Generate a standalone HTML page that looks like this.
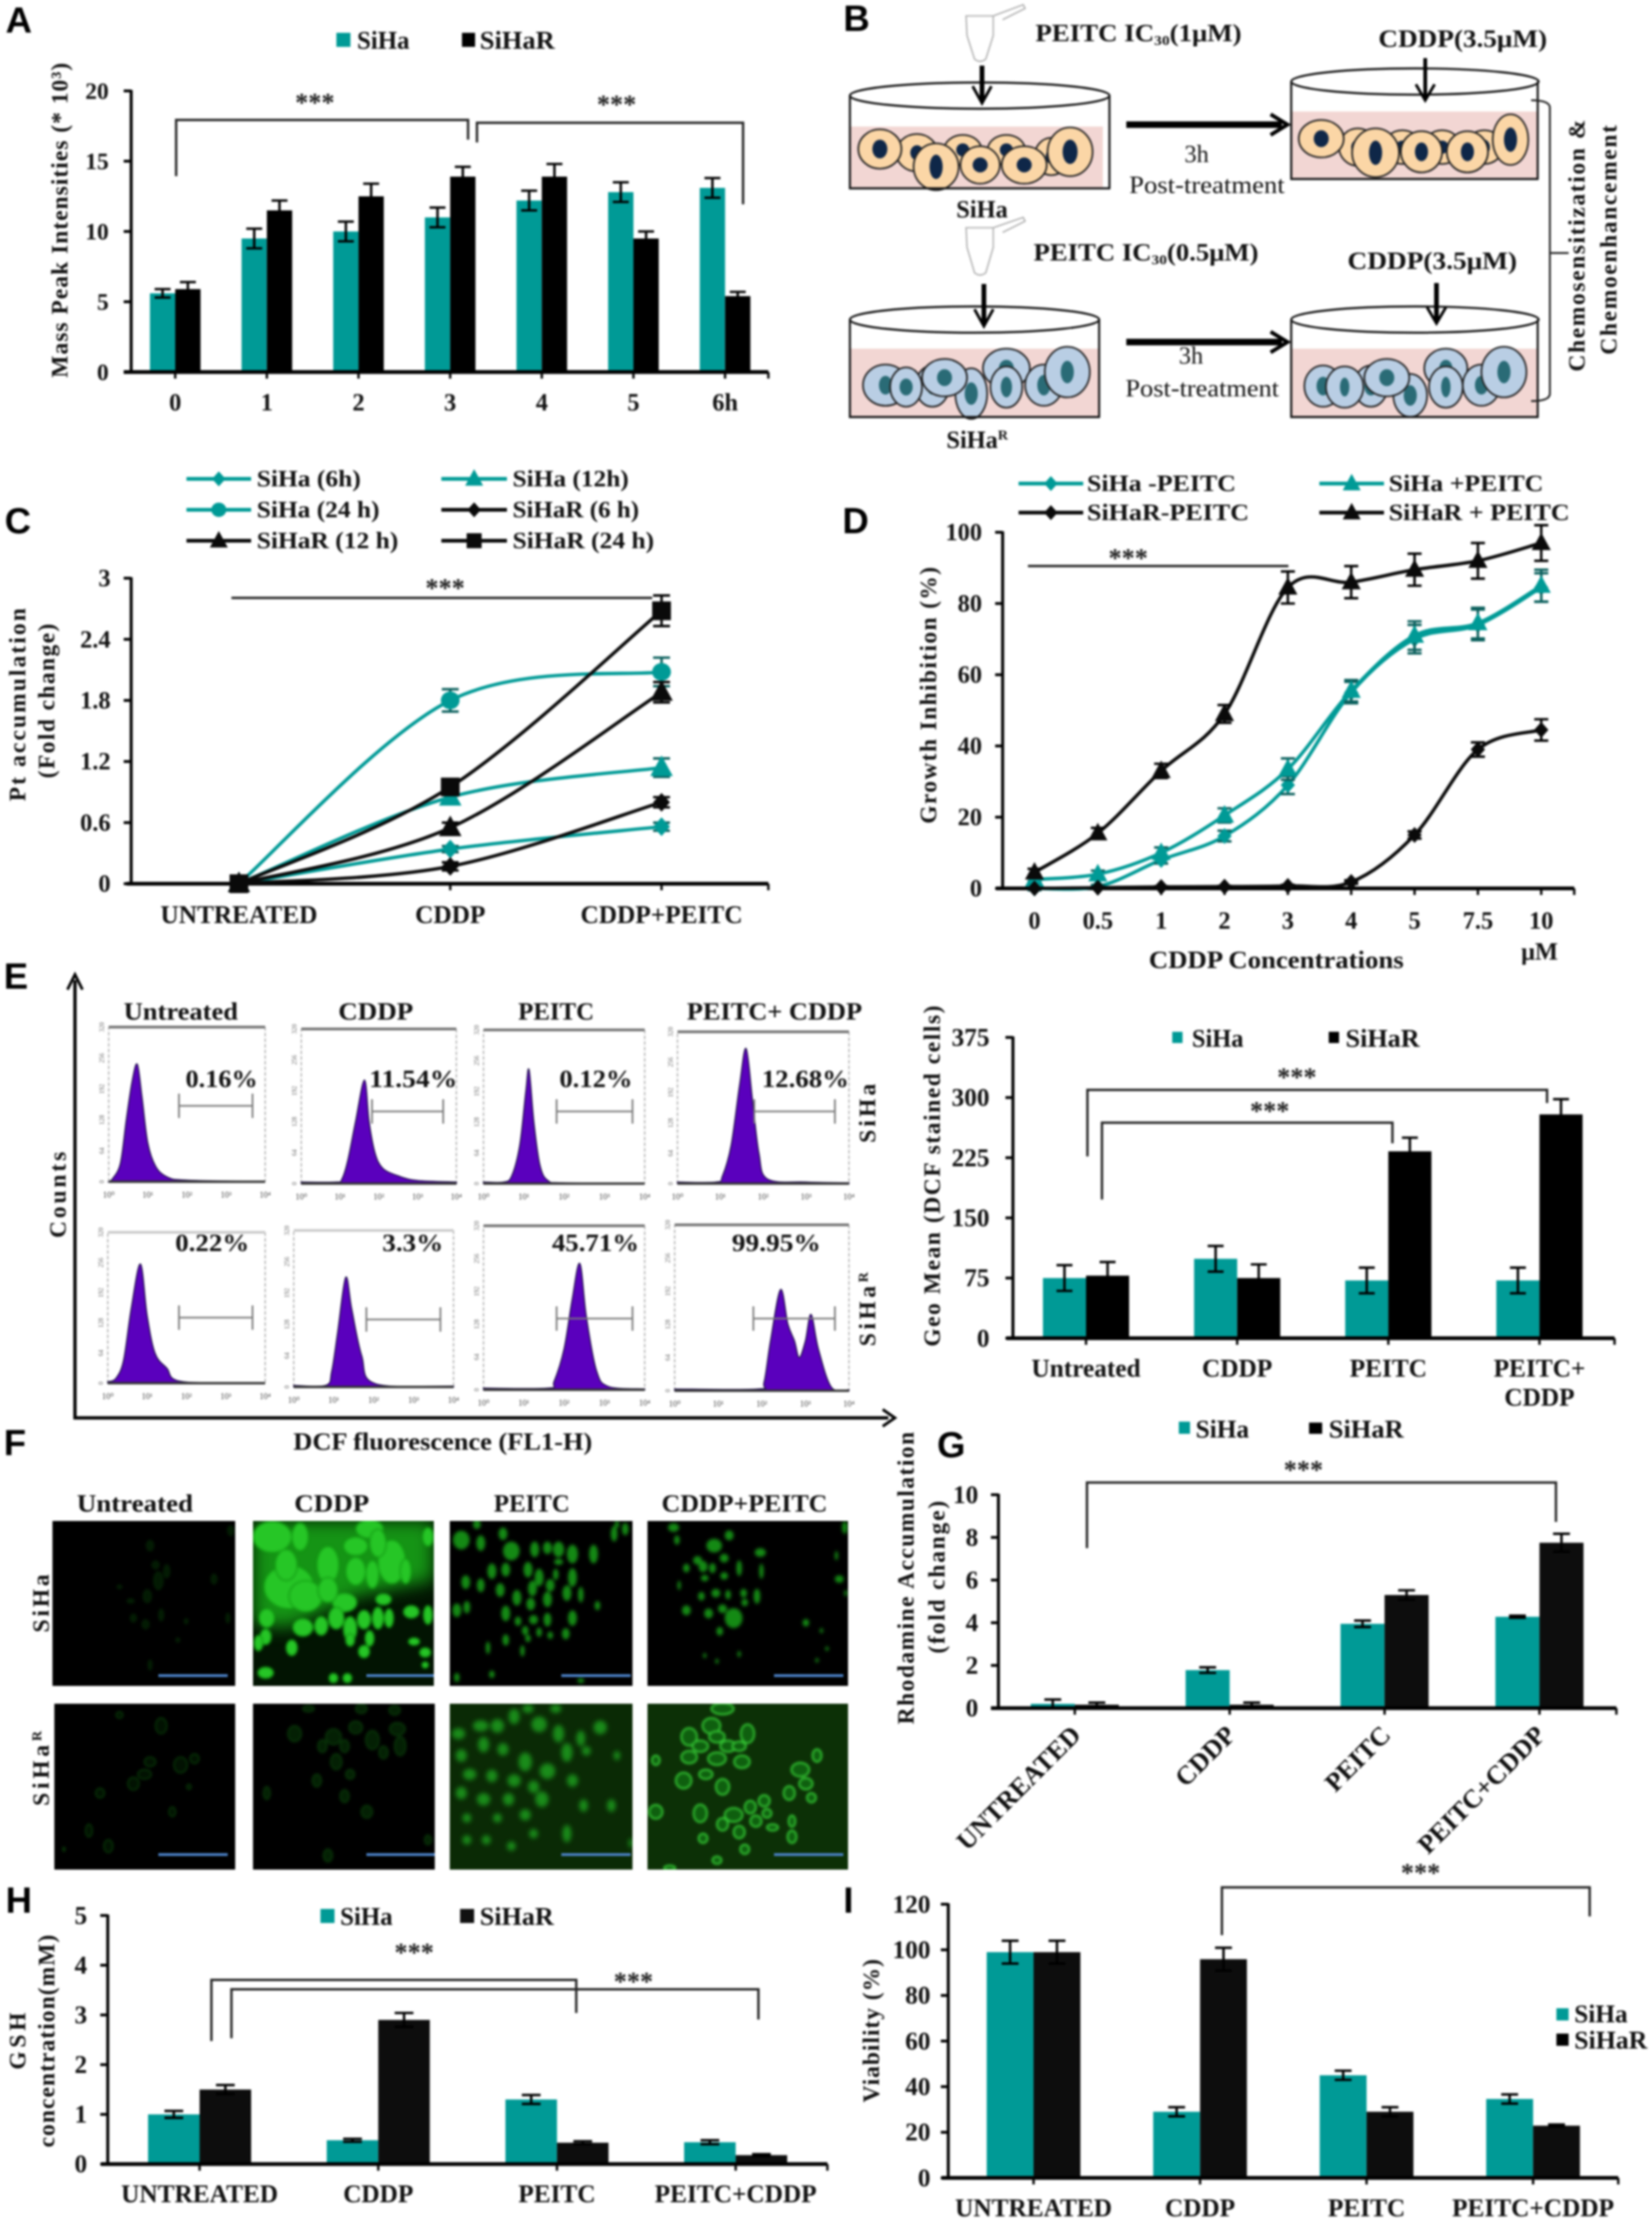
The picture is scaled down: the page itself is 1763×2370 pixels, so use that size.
<!DOCTYPE html>
<html lang="en">
<head>
<meta charset="utf-8">
<title>PEITC and CDDP multi-panel figure</title>
<style>
html,body{margin:0;padding:0;background:#fff}
svg#figure{display:block;width:1763px;height:2370px;filter:blur(1px);font-family:"Liberation Serif",serif;font-weight:bold;fill:#111}
.pl{font-family:"Liberation Sans",sans-serif;font-weight:bold;font-size:39px;fill:#000}
.star{font-size:28px;text-anchor:middle;fill:#222}
.lg{font-size:27px;fill:#111}
.hd{font-size:26px;fill:#111}
.vt{font-size:25px;fill:#111;text-anchor:middle}
.br{fill:none;stroke:#222;stroke-width:2.5}
</style>
</head>
<body>
<svg id="figure" xmlns="http://www.w3.org/2000/svg" width="1763" height="2370" viewBox="0 0 1763 2370">
<rect x="0" y="0" width="1763" height="2370" fill="#fff"/>

<!-- Panel letters -->
<text class="pl" x="6" y="35">A</text>
<text class="pl" x="900" y="33">B</text>
<text class="pl" x="5" y="569">C</text>
<text class="pl" x="899" y="569">D</text>
<text class="pl" x="4" y="1055">E</text>
<text class="pl" x="4" y="1553">F</text>
<text class="pl" x="1000" y="1555">G</text>
<text class="pl" x="6" y="2041">H</text>
<text class="pl" x="900" y="2041">I</text>

<!-- Panel A -->
<g id="panel-a"></g>
<g>
<rect x="359" y="35" width="15" height="15" fill="#009a96"/>
<text class="lg" x="381" y="52" textLength="56" lengthAdjust="spacingAndGlyphs">SiHa</text>
<rect x="493" y="35" width="14" height="15" fill="#000"/>
<text class="lg" x="512" y="52" textLength="80" lengthAdjust="spacingAndGlyphs">SiHaR</text>
<text class="vt" transform="translate(72,235) rotate(-90)" textLength="336" lengthAdjust="spacing">Mass Peak Intensities (* 10³)</text>
<path class="br" d="M188 188V128H499.5V149"/>
<path class="br" d="M509 152V131H793V218"/>
<text class="star" x="336" y="119">***</text>
<text class="star" x="658" y="121">***</text>
</g>

<!-- Panel B -->
<g id="panel-b">
<g fill="none" stroke="#b4b4b4" stroke-width="1.6">
<path d="M1031 17H1060V38L1052 63Q1046 68 1040 63L1032 38Z"/>
<path d="M1060 17L1092 5l2 4-24 12"/>
<path d="M1031 243H1060V264L1052 291Q1046 296 1040 291L1032 264Z"/>
<path d="M1060 243L1092 232l2 4-24 12"/>
</g>
<g>
<rect x="907" y="135" width="270" height="65" fill="#f2d6d3"/>
<rect x="1378" y="119" width="263" height="71" fill="#f2d6d3"/>
<rect x="907" y="372" width="266" height="73" fill="#f2d6d3"/>
<rect x="1378" y="372" width="263" height="73" fill="#f2d6d3"/>
</g>
<g id="schematic-cells"></g>
<g fill="none" stroke="#111" stroke-width="2.2">
<ellipse cx="1045.5" cy="102" rx="138.5" ry="14"/>
<path d="M907 102V201H1185M1184 102V201"/>
<ellipse cx="1510" cy="87" rx="132" ry="14"/>
<path d="M1378 87V191H1642M1641 87V191"/>
<ellipse cx="1040" cy="341" rx="133" ry="14"/>
<path d="M907 341V445H1174M1173 341V445"/>
<ellipse cx="1510" cy="341" rx="132" ry="14"/>
<path d="M1378 341V445H1642M1641 341V445"/>
</g>
<g stroke="#000" fill="none">
<path d="M1048 70V108" stroke-width="5"/><path d="M1038 92L1048 110L1058 92" stroke-width="3"/>
<path d="M1521 62V105" stroke-width="4"/><path d="M1511 90L1521 107L1531 90" stroke-width="3"/>
<path d="M1050 303V346" stroke-width="5"/><path d="M1040 330L1050 348L1060 330" stroke-width="3"/>
<path d="M1533 302V343" stroke-width="5"/><path d="M1523 328L1533 345L1543 328" stroke-width="3"/>
<path d="M1202 133H1368" stroke-width="7"/><path d="M1356 122L1374 133L1356 144" stroke-width="4"/>
<path d="M1202 365H1368" stroke-width="7"/><path d="M1356 354L1374 365L1356 376" stroke-width="4"/>
<path d="M1634 107Q1654 107 1654 115V420Q1654 428 1634 428M1654 270H1674" stroke="#222" stroke-width="2"/>
</g>
<text class="hd" x="1105" y="44" textLength="220" lengthAdjust="spacingAndGlyphs">PEITC IC<tspan font-size="15" dy="4">30</tspan><tspan dy="-4">(1μM)</tspan></text>
<text class="hd" x="1103" y="278" textLength="240" lengthAdjust="spacingAndGlyphs">PEITC IC<tspan font-size="15" dy="4">30</tspan><tspan dy="-4">(0.5μM)</tspan></text>
<text class="hd" x="1471" y="50" textLength="180" lengthAdjust="spacingAndGlyphs">CDDP(3.5μM)</text>
<text class="hd" x="1438" y="287" textLength="181" lengthAdjust="spacingAndGlyphs">CDDP(3.5μM)</text>
<text class="hd" x="1277" y="173" text-anchor="middle" font-weight="normal">3h</text>
<text class="hd" x="1205" y="206" textLength="166" lengthAdjust="spacingAndGlyphs" font-weight="normal">Post-treatment</text>
<text class="hd" x="1271" y="388" text-anchor="middle" font-weight="normal">3h</text>
<text class="hd" x="1201" y="423" textLength="164" lengthAdjust="spacingAndGlyphs" font-weight="normal">Post-treatment</text>
<text class="hd" x="1048" y="232" text-anchor="middle">SiHa</text>
<text class="hd" x="1010" y="478">SiHa<tspan font-size="15" dy="-9">R</tspan></text>
<text class="vt" transform="translate(1691,262) rotate(-90)" font-size="27" textLength="269" lengthAdjust="spacing">Chemosensitization &amp;</text>
<text class="vt" transform="translate(1725,256) rotate(-90)" font-size="27" textLength="245" lengthAdjust="spacing">Chemoenhancement</text>
</g>

<!-- Panel C -->
<g id="panel-c-legend"></g>
<g id="panel-c"></g>
<g>
<text class="vt" transform="translate(27,752) rotate(-90)" textLength="206" lengthAdjust="spacing">Pt  accumulation</text>
<text class="vt" transform="translate(58,748) rotate(-90)" textLength="165" lengthAdjust="spacing">(Fold change)</text>
<path d="M247 638H696" fill="none" stroke="#222" stroke-width="2.5"/>
<text class="star" x="475" y="637">***</text>
</g>

<!-- Panel D -->
<g id="panel-d-legend"></g>
<g id="panel-d"></g>
<g>
<text class="vt" transform="translate(999,742) rotate(-90)" textLength="274" lengthAdjust="spacing">Growth Inhibition (%)</text>
<text class="hd" x="1226" y="1033" textLength="272" lengthAdjust="spacingAndGlyphs">CDDP Concentrations</text>
<text class="hd" x="1643" y="1024" text-anchor="middle">μM</text>
<path d="M1097 604H1375" fill="none" stroke="#222" stroke-width="2.5"/>
<text class="star" x="1204" y="605">***</text>
</g>

<!-- Panel E flow plots -->
<g>
<path d="M80 1046V1513H948" fill="none" stroke="#000" stroke-width="3.5"/>
<path d="M72 1056L80 1040L88 1056" fill="none" stroke="#000" stroke-width="3"/>
<path d="M942 1504L955 1513L942 1522" fill="none" stroke="#000" stroke-width="3"/>
<text class="vt" transform="translate(70,1275) rotate(-90)" textLength="92" lengthAdjust="spacing">Counts</text>
<text class="hd" x="313" y="1547" textLength="319" lengthAdjust="spacingAndGlyphs">DCF fluorescence (FL1-H)</text>
<text class="hd" x="132" y="1088" textLength="122" lengthAdjust="spacingAndGlyphs">Untreated</text>
<text class="hd" x="361" y="1088" textLength="80" lengthAdjust="spacingAndGlyphs">CDDP</text>
<text class="hd" x="553" y="1088" textLength="81" lengthAdjust="spacingAndGlyphs">PEITC</text>
<text class="hd" x="733" y="1088" textLength="187" lengthAdjust="spacingAndGlyphs">PEITC+ CDDP</text>
<text class="vt" transform="translate(934,1188) rotate(-90)" textLength="63" lengthAdjust="spacing">SiHa</text>
<text class="vt" transform="translate(934,1397) rotate(-90)" textLength="79" lengthAdjust="spacing">SiHa<tspan font-size="15" dy="-8">R</tspan></text>
<g id="flow-plots"></g>
<g font-size="26" fill="#111">
<text x="198" y="1160" textLength="77" lengthAdjust="spacingAndGlyphs">0.16%</text>
<text x="394" y="1160" textLength="94" lengthAdjust="spacingAndGlyphs">11.54%</text>
<text x="597" y="1160" textLength="78" lengthAdjust="spacingAndGlyphs">0.12%</text>
<text x="813" y="1160" textLength="93" lengthAdjust="spacingAndGlyphs">12.68%</text>
<text x="187" y="1335" textLength="79" lengthAdjust="spacingAndGlyphs">0.22%</text>
<text x="408" y="1335" textLength="65" lengthAdjust="spacingAndGlyphs">3.3%</text>
<text x="589" y="1335" textLength="93" lengthAdjust="spacingAndGlyphs">45.71%</text>
<text x="781" y="1335" textLength="95" lengthAdjust="spacingAndGlyphs">99.95%</text>
</g>
</g>

<!-- Panel E geo mean chart -->
<g id="panel-e-bars"></g>
<g>
<rect x="1251" y="1101" width="11" height="12" fill="#009a96"/>
<text class="lg" x="1272" y="1117" textLength="55" lengthAdjust="spacingAndGlyphs">SiHa</text>
<rect x="1418" y="1101" width="11" height="12" fill="#000"/>
<text class="lg" x="1436" y="1117" textLength="79" lengthAdjust="spacingAndGlyphs">SiHaR</text>
<text class="vt" transform="translate(1003,1255) rotate(-90)" textLength="364" lengthAdjust="spacing">Geo Mean (DCF stained cells)</text>
<path class="br" d="M1160.5 1234V1163H1651V1177" stroke="#444"/>
<path class="br" d="M1176 1280V1198H1486V1220"/>
<text class="star" x="1384" y="1159">***</text>
<text class="star" x="1355" y="1195">***</text>
</g>

<!-- Panel F -->
<g>
<text class="hd" x="82" y="1613" textLength="124" lengthAdjust="spacingAndGlyphs">Untreated</text>
<text class="hd" x="314" y="1613" textLength="80" lengthAdjust="spacingAndGlyphs">CDDP</text>
<text class="hd" x="527" y="1613" textLength="81" lengthAdjust="spacingAndGlyphs">PEITC</text>
<text class="hd" x="706" y="1613" textLength="177" lengthAdjust="spacingAndGlyphs">CDDP+PEITC</text>
<text class="vt" transform="translate(52,1711) rotate(-90)" textLength="62" lengthAdjust="spacing">SiHa</text>
<text class="vt" transform="translate(52,1887) rotate(-90)" textLength="80" lengthAdjust="spacing">SiHa<tspan font-size="15" dy="-8">R</tspan></text>
<g id="micrographs"></g>
</g>

<!-- Panel G -->
<g id="panel-g"></g>
<g>
<rect x="1258" y="1517" width="12" height="13" fill="#009a96"/>
<text class="lg" x="1276" y="1534" textLength="57" lengthAdjust="spacingAndGlyphs">SiHa</text>
<rect x="1397" y="1518" width="14" height="12" fill="#000"/>
<text class="lg" x="1418" y="1534" textLength="80" lengthAdjust="spacingAndGlyphs">SiHaR</text>
<text class="vt" transform="translate(975,1684) rotate(-90)" textLength="312" lengthAdjust="spacing">Rhodamine Accumulation</text>
<text class="vt" transform="translate(1008,1683) rotate(-90)" textLength="163" lengthAdjust="spacing">(fold change)</text>
<path class="br" d="M1160 1652V1582H1660.5V1624"/>
<text class="star" x="1391" y="1578">***</text>
</g>

<!-- Panel H -->
<g id="panel-h"></g>
<g>
<rect x="342" y="2037" width="15" height="15" fill="#009a96"/>
<text class="lg" x="363" y="2054" textLength="56" lengthAdjust="spacingAndGlyphs">SiHa</text>
<rect x="491" y="2037" width="15" height="15" fill="#111"/>
<text class="lg" x="512" y="2054" textLength="79" lengthAdjust="spacingAndGlyphs">SiHaR</text>
<text class="vt" transform="translate(27,2178) rotate(-90)" textLength="61" lengthAdjust="spacing">GSH</text>
<text class="vt" transform="translate(58,2178) rotate(-90)" textLength="227" lengthAdjust="spacing">concentration(mM)</text>
<path class="br" d="M225.6 2178V2112.7H615V2148"/>
<path class="br" d="M247 2175V2122.7H809.4V2155"/>
<text class="star" x="442" y="2093">***</text>
<text class="star" x="676" y="2124">***</text>
</g>

<!-- Panel I -->
<g id="panel-i"></g>
<g>
<rect x="1661" y="2143" width="13" height="13" fill="#009a96"/>
<text class="lg" x="1680" y="2158" textLength="57" lengthAdjust="spacingAndGlyphs">SiHa</text>
<rect x="1661" y="2170" width="13" height="13" fill="#000"/>
<text class="lg" x="1680" y="2186" textLength="78" lengthAdjust="spacingAndGlyphs">SiHaR</text>
<text class="vt" transform="translate(938,2167) rotate(-90)" textLength="153" lengthAdjust="spacing">Viability (%)</text>
<path class="br" d="M1304 2065V2014H1696.5V2045"/>
<text class="star" x="1516" y="2008">***</text>
</g>
</svg>

<script>
// ---------- Panel A data ----------
const aCategories = ['0', '1', '2', '3', '4', '5', '6h'];
const aYTicks = [0, 5, 10, 15, 20];
const aSiHa = [5.6, 9.5, 10, 11, 12.2, 12.8, 13.1];
const aSiHaErr = [0.3, 0.7, 0.7, 0.7, 0.7, 0.7, 0.7];
const aSiHaR = [5.9, 11.5, 12.5, 13.9, 13.9, 9.5, 5.4];
const aSiHaRErr = [0.5, 0.7, 0.9, 0.7, 0.9, 0.5, 0.3];

// ---------- Panel C data ----------
const cCategories = ['UNTREATED', 'CDDP', 'CDDP+PEITC'];
const cYTicks = [0, 0.6, 1.2, 1.8, 2.4, 3];
const cSiHa6h = [0, 0.34, 0.56];
const cSiHa6hErr = [0, 0.03, 0.04];
const cSiHa12h = [0, 0.85, 1.14];
const cSiHa12hErr = [0, 0.05, 0.09];
const cSiHa24h = [0, 1.8, 2.08];
const cSiHa24hErr = [0, 0.11, 0.14];
const cSiHaR6h = [0, 0.17, 0.8];
const cSiHaR6hErr = [0, 0.04, 0.05];
const cSiHaR12h = [0, 0.55, 1.88];
const cSiHaR12hErr = [0, 0.05, 0.1];
const cSiHaR24h = [0, 0.95, 2.68];
const cSiHaR24hErr = [0, 0.05, 0.15];

// ---------- Panel D data ----------
const dDoses = ['0', '0.5', '1', '2', '3', '4', '5', '7.5', '10'];
const dYTicks = [0, 20, 40, 60, 80, 100];
const dSiHaMinus = [0, 0.5, 8, 14.7, 29, 55, 70, 74, 84.5];
const dSiHaMinusErr = [0.5, 0.5, 1, 1.5, 2.5, 3, 4, 4.3, 4];
const dSiHaPlus = [2.5, 4, 10, 20.5, 33.5, 55.5, 71, 74.5, 85];
const dSiHaPlusErr = [0.5, 1, 1.5, 2, 3, 3, 4, 4.3, 4.5];
const dSiHaRMinus = [0, 0.2, 0.4, 0.5, 0.7, 1.8, 15, 39, 44.5];
const dSiHaRMinusErr = [0.2, 0.2, 0.2, 0.2, 0.3, 0.5, 1, 2, 3];
const dSiHaRPlus = [4.5, 15.5, 33, 49, 84.5, 86, 89.5, 92, 97];
const dSiHaRPlusErr = [1, 1.5, 2, 2.5, 4.5, 4.5, 4.5, 5, 5];

// ---------- Panel E geo mean data ----------
const eCategories = ['Untreated', 'CDDP', 'PEITC', 'PEITC+|CDDP'];
const eYTicks = [0, 75, 150, 225, 300, 375];
const eSiHa = [75, 99, 72, 72];
const eSiHaErr = [16, 16, 16, 16];
const eSiHaR = [78, 75, 233, 279];
const eSiHaRErr = [17, 17, 17, 19];

// ---------- Panel E flow histograms (log decades, fraction of frame height) ----------
const histAxisLabels = ['10⁰', '10¹', '10²', '10³', '10⁴'];
const histCountLabels = [0, 64, 128, 192, 256, 320];
const h1Log = [0, 0.1, 0.3, 0.45, 0.6, 0.73, 0.85, 1, 1.2, 1.5, 2, 4];
const h1Count = [0, 0.02, 0.12, 0.4, 0.65, 0.76, 0.55, 0.25, 0.1, 0.03, 0.01, 0];
const h2Log = [0, 0.9, 1.05, 1.2, 1.4, 1.63, 1.75, 1.9, 2.1, 2.5, 3, 4];
const h2Count = [0.01, 0.01, 0.03, 0.15, 0.4, 0.67, 0.4, 0.2, 0.1, 0.05, 0.02, 0.01];
const h3Log = [0, 0.5, 0.7, 0.9, 1.05, 1.13, 1.25, 1.4, 1.6, 2, 4];
const h3Count = [0.01, 0.01, 0.05, 0.25, 0.6, 0.74, 0.4, 0.12, 0.02, 0.005, 0];
const h4Log = [0, 0.9, 1.05, 1.25, 1.45, 1.6, 1.75, 1.9, 2.1, 3, 4];
const h4Count = [0.01, 0.01, 0.05, 0.25, 0.65, 0.89, 0.55, 0.2, 0.03, 0.01, 0.005];
const h5Log = [0, 0.2, 0.4, 0.6, 0.83, 1, 1.2, 1.5, 1.9, 4];
const h5Count = [0.01, 0.03, 0.15, 0.5, 0.79, 0.45, 0.2, 0.1, 0.01, 0];
const h6Log = [0, 0.8, 0.95, 1.1, 1.3, 1.45, 1.7, 2.05, 4];
const h6Count = [0.01, 0.01, 0.1, 0.35, 0.7, 0.5, 0.2, 0.02, 0.005];
const h7Log = [0, 1.6, 1.75, 2, 2.2, 2.39, 2.55, 2.8, 3.1, 4];
const h7Count = [0.01, 0.01, 0.05, 0.25, 0.55, 0.77, 0.45, 0.12, 0.02, 0.005];
const h8Log = [0, 1.9, 2.05, 2.2, 2.43, 2.6, 2.75, 2.86, 3, 3.13, 3.3, 3.6, 4];
const h8Count = [0.01, 0.01, 0.05, 0.3, 0.61, 0.4, 0.3, 0.2, 0.3, 0.46, 0.25, 0.02, 0.005];

// ---------- Panel G data ----------
const gCategories = ['UNTREATED', 'CDDP', 'PEITC', 'PEITC+CDDP'];
const gYTicks = [0, 2, 4, 6, 8, 10];
const gSiHa = [0.2, 1.78, 3.95, 4.28];
const gSiHaErr = [0.2, 0.13, 0.15, 0.05];
const gSiHaR = [0.16, 0.16, 5.3, 7.75];
const gSiHaRErr = [0.1, 0.1, 0.22, 0.42];

// ---------- Panel H data ----------
const hCategories = ['UNTREATED', 'CDDP', 'PEITC', 'PEITC+CDDP'];
const hYTicks = [0, 1, 2, 3, 4, 5];
const hSiHa = [1, 0.48, 1.3, 0.44];
const hSiHaErr = [0.07, 0.03, 0.09, 0.04];
const hSiHaR = [1.5, 2.9, 0.43, 0.18];
const hSiHaRErr = [0.09, 0.14, 0.03, 0.02];

// ---------- Panel I data ----------
const iCategories = ['UNTREATED', 'CDDP', 'PEITC', 'PEITC+CDDP'];
const iYTicks = [0, 20, 40, 60, 80, 100, 120];
const iSiHa = [99, 29, 45, 34.6];
const iSiHaErr = [5, 2, 2, 2];
const iSiHaR = [99, 95.9, 29, 22.9];
const iSiHaRErr = [5, 5, 2, 0.5];

const TEAL = '#009a96';
const BLACK = '#0a0a0a';
const SVGNS = 'http://www.w3.org/2000/svg';

function mk(tag, attrs, parent) {
  const el = document.createElementNS(SVGNS, tag);
  for (const k in attrs) el.setAttribute(k, attrs[k]);
  parent.appendChild(el);
  return el;
}
function linearScale(v0, p0, v1, p1) {
  return v => p0 + (v - v0) * (p1 - p0) / (v1 - v0);
}
function drawMarker(parent, type, x, y, color, s) {
  let el;
  if (type === 'diamond') {
    el = mk('polygon', {points: [x, y - 10 * s, x + 9 * s, y, x, y + 10 * s, x - 9 * s, y].join(' '), fill: color}, parent);
  } else if (type === 'triangle') {
    el = mk('polygon', {points: [x, y - 13 * s, x + 12 * s, y + 9 * s, x - 12 * s, y + 9 * s].join(' '), fill: color}, parent);
  } else if (type === 'square') {
    el = mk('rect', {x: x - 10 * s, y: y - 10 * s, width: 20 * s, height: 20 * s, fill: color}, parent);
  } else {
    el = mk('ellipse', {cx: x, cy: y, rx: 10 * s, ry: 9.5 * s, fill: color}, parent);
  }
  
  
  return el;
}
function drawErrorBar(parent, cx, yHi, yLo, cap, color) {
  const d = 'M' + (cx - cap) + ' ' + yHi + 'H' + (cx + cap) + 'M' + cx + ' ' + yHi + 'V' + yLo + 'M' + (cx - cap) + ' ' + yLo + 'H' + (cx + cap);
  const el = mk('path', {d: d, stroke: color, 'stroke-width': 2.6, fill: 'none'}, parent);
  
  
}
function drawAxes(root, yTicks, yScale, xTickPositions, L) {
  const yMax = yTicks[yTicks.length - 1];
  const yAxis = mk('line', {x1: L.axisX, x2: L.axisX, y1: yScale(yMax) - 1, y2: L.yZero, stroke: '#000', 'stroke-width': 3.2}, root);
  
  
  const xAxis = mk('line', {x1: L.axisLeft, x2: L.axisRight, y1: L.yZero, y2: L.yZero, stroke: '#000', 'stroke-width': 4}, root);
  
  
  yTicks.forEach(v => {
    const tick = mk('line', {x1: L.axisX - 8, x2: L.axisX, y1: yScale(v), y2: yScale(v), stroke: '#000', 'stroke-width': 3}, root);
    
    
    const label = mk('text', {x: L.yLabelX, y: yScale(v) + L.tickSize * 0.33, 'text-anchor': 'end', 'font-size': L.tickSize}, root);
    label.textContent = String(v);
    
    
  });
  xTickPositions.forEach(px => {
    const tick = mk('line', {x1: px, x2: px, y1: L.yZero, y2: L.yZero + 7, stroke: '#000', 'stroke-width': 2.5}, root);
    
    
  });
}
function drawCategoryLabels(root, categories, xScale, L) {
  categories.forEach((c, i) => {
    const px = xScale(i);
    if (L.labelRotate) {
      const label = mk('text', {'text-anchor': 'end', 'font-size': L.labelSize, transform: 'translate(' + (px + L.labelOffsetX) + ',' + L.labelY + ') rotate(' + L.labelRotate + ')'}, root);
      label.textContent = c;
      
      
    } else {
      c.split('|').forEach((part, row) => {
        const label = mk('text', {x: px, y: L.labelY + row * L.labelSize * 1.15, 'text-anchor': 'middle', 'font-size': L.labelSize}, root);
        label.textContent = part;
        
        
      });
    }
  });
}
function drawBarChart(id, categories, yTicks, sihaVals, sihaErrs, siharVals, siharErrs, L) {
  const root = document.getElementById(id);
  const x = linearScale(0, L.xFirst, 1, L.xFirst + L.xStep);
  const y = linearScale(0, L.yZero, yTicks[yTicks.length - 1], L.yTop);
  categories.forEach((c, i) => {
    const teal = mk('rect', {x: x(i) - L.barW, y: y(sihaVals[i]), width: L.barW, height: L.yZero - y(sihaVals[i]), fill: TEAL}, root);
    
    
    const dark = mk('rect', {x: x(i), y: y(siharVals[i]), width: L.barW, height: L.yZero - y(siharVals[i]), fill: L.darkFill}, root);
    
    
    drawErrorBar(root, x(i) - L.barW / 2, y(sihaVals[i] + sihaErrs[i]), y(sihaVals[i] - sihaErrs[i]), L.cap, '#000');
    drawErrorBar(root, x(i) + L.barW / 2, y(siharVals[i] + siharErrs[i]), y(siharVals[i] - siharErrs[i]), L.cap, '#000');
  });
  const ticks = categories.map((c, i) => x(i)).concat([L.axisRight]);
  drawAxes(root, yTicks, y, ticks, L);
  drawCategoryLabels(root, categories, x, L);
}
function smoothPath(pts) {
  let d = 'M' + pts[0][0] + ' ' + pts[0][1];
  for (let i = 0; i < pts.length - 1; i++) {
    const p0 = pts[Math.max(i - 1, 0)], p1 = pts[i], p2 = pts[i + 1], p3 = pts[Math.min(i + 2, pts.length - 1)];
    const c1x = p1[0] + (p2[0] - p0[0]) / 6, c1y = p1[1] + (p2[1] - p0[1]) / 6;
    const c2x = p2[0] - (p3[0] - p1[0]) / 6, c2y = p2[1] - (p3[1] - p1[1]) / 6;
    d += 'C' + c1x + ' ' + c1y + ' ' + c2x + ' ' + c2y + ' ' + p2[0] + ' ' + p2[1];
  }
  return d;
}
function drawLineChart(id, categories, yTicks, seriesList, L) {
  const root = document.getElementById(id);
  const x = linearScale(0, L.xFirst, 1, L.xFirst + L.xStep);
  const y = linearScale(0, L.yZero, yTicks[yTicks.length - 1], L.yTop);
  const ticks = categories.map((c, i) => x(i)).concat([L.axisRight]);
  drawAxes(root, yTicks, y, ticks, L);
  drawCategoryLabels(root, categories, x, L);
  seriesList.forEach(s => {
    const pts = s.values.map((v, i) => [x(i), y(v)]);
    const line = mk('path', {d: smoothPath(pts), fill: 'none', stroke: s.color, 'stroke-width': 3.6}, root);
    
    
    s.values.forEach((v, i) => {
      if (s.errors[i] > 0) drawErrorBar(root, x(i), y(v + s.errors[i]), y(v - s.errors[i]), L.cap, s.color === TEAL ? '#0a5f5c' : '#000');
      drawMarker(root, s.marker, x(i), y(v), s.color, L.markerScale);
    });
  });
}
function drawLegendEntry(parentId, x1, x2, my, marker, color, label, tx, len) {
  const parent = document.getElementById(parentId);
  const line = mk('line', {x1: x1, x2: x2, y1: my, y2: my, stroke: color, 'stroke-width': 4}, parent);
  
  
  drawMarker(parent, marker, (x1 + x2) / 2, my, color, 0.8);
  const t = mk('text', {x: tx, y: my + 8, 'font-size': 25, textLength: len, lengthAdjust: 'spacingAndGlyphs'}, parent);
  t.textContent = label;
  
  
}
function drawFlowPlot(logs, counts, F) {
  const root = document.getElementById('flow-plots');
  const x = linearScale(0, F.left, 4, F.right);
  const y = linearScale(0, F.bottom, 1, F.top);
  const frame = mk('path', {d: 'M' + F.left + ' ' + F.bottom + 'V' + F.top + 'M' + F.right + ' ' + F.top + 'V' + F.bottom, fill: 'none', stroke: '#aaa', 'stroke-width': 1.2, 'stroke-dasharray': '4 2'}, root);
  
  
  const topEdge = mk('line', {x1: F.left, x2: F.right, y1: F.top, y2: F.top, stroke: F.topColor, 'stroke-width': 3}, root);
  
  
  const pts = logs.map((v, i) => [x(v), y(counts[i])]);
  const shape = smoothPath(pts) + 'L' + F.right + ' ' + F.bottom + 'L' + F.left + ' ' + F.bottom + 'Z';
  const fill = mk('path', {d: shape, fill: '#5a00bd', stroke: '#20104a', 'stroke-width': 1.2}, root);
  
  
  const base = mk('line', {x1: F.left, x2: F.right, y1: F.bottom, y2: F.bottom, stroke: '#333', 'stroke-width': 2.4}, root);
  
  
  histAxisLabels.forEach((lab, i) => {
    const t = mk('text', {x: x(i), y: F.bottom + 17, 'font-size': 9, 'font-weight': 'normal', 'text-anchor': 'middle', fill: '#444'}, root);
    t.textContent = lab;
    
    
  });
  histCountLabels.forEach((lab, i) => {
    const py = F.bottom + (F.top - F.bottom) * i / (histCountLabels.length - 1);
    const t = mk('text', {'font-size': 7, 'font-weight': 'normal', 'text-anchor': 'middle', fill: '#666', transform: 'translate(' + (F.left - 5) + ',' + py + ') rotate(-90)'}, root);
    t.textContent = String(lab);
    
    
  });
  const gate = mk('path', {d: 'M' + F.gateL + ' ' + (F.gateY - 13) + 'V' + (F.gateY + 13) + 'M' + F.gateR + ' ' + (F.gateY - 13) + 'V' + (F.gateY + 13) + 'M' + F.gateL + ' ' + F.gateY + 'H' + F.gateR, fill: 'none', stroke: '#777', 'stroke-width': 1.8}, root);
  
  
}

// ---------- Draw charts ----------
drawBarChart('panel-a', aCategories, aYTicks, aSiHa, aSiHaErr, aSiHaR, aSiHaRErr,
  {xFirst: 187, xStep: 97.8, barW: 27, cap: 8.5, yZero: 397, yTop: 97, axisX: 140, axisLeft: 132, axisRight: 820, yLabelX: 116, tickSize: 25, labelSize: 26, labelY: 438, darkFill: '#000'});
drawBarChart('panel-e-bars', eCategories, eYTicks, eSiHa, eSiHaErr, eSiHaR, eSiHaRErr,
  {xFirst: 1159, xStep: 161.3, barW: 46, cap: 8.5, yZero: 1428, yTop: 1107, axisX: 1081, axisLeft: 1074, axisRight: 1723, yLabelX: 1056, tickSize: 27, labelSize: 27, labelY: 1469, darkFill: '#000'});
drawBarChart('panel-g', gCategories, gYTicks, gSiHa, gSiHaErr, gSiHaR, gSiHaRErr,
  {xFirst: 1147, xStep: 165.3, barW: 47, cap: 9, yZero: 1822.7, yTop: 1595, axisX: 1065.5, axisLeft: 1057.5, axisRight: 1725, yLabelX: 1044, tickSize: 27, labelSize: 28, labelY: 1853, labelRotate: -45, labelOffsetX: 8, darkFill: '#0d0d0d'});
drawBarChart('panel-h', hCategories, hYTicks, hSiHa, hSiHaErr, hSiHaR, hSiHaRErr,
  {xFirst: 213, xStep: 190.7, barW: 55, cap: 10, yZero: 2309.3, yTop: 2044, axisX: 115, axisLeft: 108, axisRight: 883, yLabelX: 93, tickSize: 27, labelSize: 27, labelY: 2350, darkFill: '#0d0d0d'});
drawBarChart('panel-i', iCategories, iYTicks, iSiHa, iSiHaErr, iSiHaR, iSiHaRErr,
  {xFirst: 1103, xStep: 177.7, barW: 50, cap: 9, yZero: 2324, yTop: 2032, axisX: 1012, axisLeft: 1005, axisRight: 1727, yLabelX: 993, tickSize: 27, labelSize: 27, labelY: 2365, darkFill: '#0d0d0d'});

drawLineChart('panel-c', cCategories, cYTicks, [
  {values: cSiHa6h, errors: cSiHa6hErr, color: TEAL, marker: 'diamond'},
  {values: cSiHa12h, errors: cSiHa12hErr, color: TEAL, marker: 'triangle'},
  {values: cSiHa24h, errors: cSiHa24hErr, color: TEAL, marker: 'circle'},
  {values: cSiHaR6h, errors: cSiHaR6hErr, color: BLACK, marker: 'diamond'},
  {values: cSiHaR12h, errors: cSiHaR12hErr, color: BLACK, marker: 'triangle'},
  {values: cSiHaR24h, errors: cSiHaR24hErr, color: BLACK, marker: 'square'}
], {xFirst: 255, xStep: 225.5, cap: 9, markerScale: 1, yZero: 943, yTop: 617, axisX: 140, axisLeft: 135, axisRight: 820, yLabelX: 118, tickSize: 26, labelSize: 27, labelY: 985});

drawLineChart('panel-d', dDoses, dYTicks, [
  {values: dSiHaMinus, errors: dSiHaMinusErr, color: TEAL, marker: 'diamond'},
  {values: dSiHaPlus, errors: dSiHaPlusErr, color: TEAL, marker: 'triangle'},
  {values: dSiHaRMinus, errors: dSiHaRMinusErr, color: BLACK, marker: 'diamond'},
  {values: dSiHaRPlus, errors: dSiHaRPlusErr, color: BLACK, marker: 'triangle'}
], {xFirst: 1104, xStep: 67.6, cap: 7.5, markerScale: 0.85, yZero: 948, yTop: 568, axisX: 1070, axisLeft: 1063, axisRight: 1680, yLabelX: 1048, tickSize: 26, labelSize: 26, labelY: 991});

drawLegendEntry('panel-c-legend', 199, 268, 511, 'diamond', TEAL, 'SiHa (6h)', 274, 111);
drawLegendEntry('panel-c-legend', 471, 541, 511, 'triangle', TEAL, 'SiHa (12h)', 547, 124);
drawLegendEntry('panel-c-legend', 199, 268, 544, 'circle', TEAL, 'SiHa (24 h)', 274, 131);
drawLegendEntry('panel-c-legend', 471, 541, 544, 'diamond', BLACK, 'SiHaR (6 h)', 547, 135);
drawLegendEntry('panel-c-legend', 199, 268, 577, 'triangle', BLACK, 'SiHaR (12 h)', 274, 151);
drawLegendEntry('panel-c-legend', 471, 541, 577, 'square', BLACK, 'SiHaR (24 h)', 547, 151);
drawLegendEntry('panel-d-legend', 1087, 1156, 516, 'diamond', TEAL, 'SiHa -PEITC', 1160, 159);
drawLegendEntry('panel-d-legend', 1408, 1477, 516, 'triangle', TEAL, 'SiHa +PEITC', 1482, 165);
drawLegendEntry('panel-d-legend', 1087, 1156, 547, 'diamond', BLACK, 'SiHaR-PEITC', 1160, 173);
drawLegendEntry('panel-d-legend', 1408, 1477, 547, 'triangle', BLACK, 'SiHaR + PEITC', 1482, 193);

drawFlowPlot(h1Log, h1Count, {left: 116, right: 283, top: 1096, bottom: 1261, topColor: '#777', gateL: 191, gateR: 269.5, gateY: 1180});
drawFlowPlot(h2Log, h2Count, {left: 321.5, right: 487, top: 1098, bottom: 1263, topColor: '#777', gateL: 397, gateR: 473, gateY: 1186});
drawFlowPlot(h3Log, h3Count, {left: 516, right: 688, top: 1099, bottom: 1263, topColor: '#777', gateL: 594, gateR: 675, gateY: 1186});
drawFlowPlot(h4Log, h4Count, {left: 723, right: 906, top: 1101, bottom: 1263, topColor: '#777', gateL: 805, gateR: 891, gateY: 1186});
drawFlowPlot(h5Log, h5Count, {left: 115, right: 283, top: 1315, bottom: 1476, topColor: '#ccc', gateL: 191, gateR: 269.5, gateY: 1406});
drawFlowPlot(h6Log, h6Count, {left: 313.5, right: 484, top: 1313, bottom: 1480, topColor: '#ccc', gateL: 391, gateR: 470, gateY: 1408});
drawFlowPlot(h7Log, h7Count, {left: 516, right: 688, top: 1308, bottom: 1483, topColor: '#777', gateL: 594, gateR: 675, gateY: 1407});
drawFlowPlot(h8Log, h8Count, {left: 720, right: 906, top: 1307, bottom: 1484, topColor: '#777', gateL: 804, gateR: 891, gateY: 1407});

// ---------- Schematic cells ----------
function drawSchematicCells(cells, fill, nucleus) {
  const root = document.getElementById('schematic-cells');
  cells.forEach(c => {
    const body = mk('ellipse', {cx: c[0], cy: c[1], rx: c[2], ry: c[3], fill: fill, stroke: '#222', 'stroke-width': 1.8}, root);
    
    
    const nuc = mk('ellipse', {cx: c[0], cy: c[1], rx: c[4], ry: c[5], fill: nucleus}, root);
    
    
  });
}
drawSchematicCells([
  [978.5,163,22,20,7,8],[1027.5,160,20,16,7,7],[1074,160,20,16,7,7],[1122,167,18,20,6,8],
  [939,159,23,21,8,10],[999,178,24,25,7,13],[1046,176,21,20,8,8],[1093,176,24,20,8,8],[1142,162,24,26,8,13]
], '#fbd6a6', '#0f2748');
drawSchematicCells([
  [1449,157,20,20,7,8],[1496.6,157,20,18,7,7],[1539,157,20,18,7,7],[1584,157,20,18,6,8],
  [1410,148,24,20,8,9],[1468,163,25,26,7,13],[1517,162,22,22,7,10],[1566,162,22,22,7,10],[1612,149,19,27,7,13]
], '#fbd6a6', '#0f2748');
drawSchematicCells([
  [945,411,24,22,7,10],[995,412,18,22,6,9],[1036.5,420,17,27,7,12],[1074,393,25,21,8,9],[1114,411,20,22,7,11],
  [967,413,17,21,7,9],[1008,403,24,20,8,9],[1074,413,17,22,6,11],[1139,397,24,27,7,12]
], '#b9cee4', '#2a6b76');
drawSchematicCells([
  [1412,412,20,22,7,10],[1463,412,18,22,7,10],[1505,422,18,23,7,11],[1543,393,23,21,7,9],[1581,411,20,22,7,10],
  [1435,413,20,22,5,10],[1480,403,24,20,8,9],[1543,413,18,22,5,11],[1605,397,24,27,7,12]
], '#b9cee4', '#2a6b76');

// ---------- Fluorescence micrographs ----------
const micrographCellsR1C1 = [[270,358,6,16],[285,470,8,28],[265,520,7,20],[235,535,6,6],[300,440,5,20],[240,590,5,12],[262,610,6,14],[290,580,4,18],[335,600,3,8],[270,740,3,15],[415,310,5,15],[385,465,5,15],[410,590,3,15],[320,660,3,6],[215,490,4,5],[280,420,6,12]];
const micrographCellsR1C2 = [[520,490,45,70],[490,330,35,50],[540,330,15,45],[515,420,20,50],[590,420,20,60],[640,360,22,30],[665,305,25,30],[705,410,25,70],[680,350,15,45],[730,440,10,40],[770,330,10,30],[550,520,30,50],[620,540,22,30],[590,500,18,40],[640,440,18,45],[670,450,12,45],[690,530,14,18],[480,590,14,30],[545,620,18,28],[578,615,12,30],[605,590,14,35],[630,625,12,40],[655,595,12,30],[680,590,10,35],[700,590,8,30],[740,570,14,20],[770,580,8,30],[478,650,10,25],[525,685,10,25],[465,670,8,25],[745,665,10,12],[630,660,8,20],[665,655,8,25],[655,697,10,20],[765,700,10,15],[478,765,14,18],[600,782,8,15],[625,782,8,15],[765,740,6,10]];
const micrographCellsR1C3 = [[830,340,15,30],[865,350,8,25],[905,320,8,20],[858,290,7,15],[920,375,15,30],[962,370,8,25],[985,365,8,20],[1005,370,10,25],[1030,385,10,30],[1068,385,8,30],[885,440,8,25],[910,435,8,22],[950,435,8,25],[970,460,8,28],[1005,410,8,10],[1000,450,5,18],[1030,460,8,30],[838,475,8,22],[865,485,7,22],[900,500,8,22],[930,525,8,25],[958,495,8,25],[990,485,8,20],[1020,510,8,25],[1045,515,5,25],[1075,550,5,15],[985,530,8,25],[955,545,8,20],[822,565,8,22],[840,555,6,20],[910,575,8,25],[932,600,6,15],[960,595,8,15],[985,595,7,22],[1030,590,8,25],[945,630,6,15],[970,635,5,15],[1018,640,7,18],[950,655,5,12],[990,645,5,12],[910,660,6,18],[878,685,4,20],[940,695,4,18],[885,770,5,12],[822,780,5,15],[1045,790,6,8],[1105,320,6,25],[1125,305,6,20],[1110,290,4,12]];
const micrographCellsR1C4 = [[1285,358,14,22],[1312,325,8,16],[1368,380,10,14],[1303,398,8,14],[1255,405,8,14],[1235,430,6,14],[1265,425,8,18],[1282,430,6,16],[1330,430,5,25],[1370,440,4,24],[1268,462,7,10],[1303,455,7,12],[1222,485,3,15],[1288,510,8,14],[1262,520,6,14],[1310,515,5,15],[1338,510,6,14],[1362,520,6,24],[1340,540,6,12],[1235,565,8,16],[1275,575,8,16],[1300,560,8,14],[1320,590,16,32],[1295,632,6,14],[1212,300,10,14],[1218,340,5,15],[1510,465,8,12],[1520,300,5,20],[1450,605,6,12],[1478,630,3,8],[1488,688,3,7],[1268,710,3,8],[1290,728,3,8],[1470,725,3,7],[1505,390,3,15],[1330,705,3,10],[1522,510,3,10]];
const micrographCellsR2C1 = [[325,1060,12,25],[240,1120,10,20],[195,1320,8,20],[160,1270,6,20],[290,935,10,25],[270,1050,10,15],[340,1130,4,8],[180,1150,8,15],[310,1210,6,15],[215,900,6,10],[115,1330,2,6],[350,1040,8,15],[260,1090,12,15]];
const micrographCellsR2C2 = [[715,945,14,20],[640,940,12,20],[670,980,12,30],[605,1050,10,25],[630,1090,8,15],[570,1110,8,20],[660,1210,10,20],[590,1350,8,20],[530,960,12,25],[720,1000,10,30],[650,880,10,15],[710,885,10,15],[555,880,10,10],[600,970,14,25],[620,1160,8,20],[480,1150,6,20],[770,1300,6,15],[690,1020,8,20],[620,1000,8,20],[580,1000,8,20]];
const micrographCellsR2C3 = [[825,960,12,18],[865,935,14,18],[895,935,12,22],[925,905,10,25],[970,930,14,25],[1005,960,10,28],[1080,940,12,22],[1045,975,8,25],[945,1050,12,30],[985,1080,14,25],[870,995,10,25],[905,1010,10,20],[1020,1020,10,30],[1055,1015,8,15],[830,1030,10,20],[845,1090,12,18],[885,1095,10,20],[925,1110,12,20],[960,1130,10,20],[1030,1110,10,20],[830,1150,10,20],[870,1170,12,20],[915,1170,10,20],[975,1170,12,25],[1050,1190,8,20],[1100,1190,8,20],[840,1230,8,15],[895,1230,8,15],[945,1220,10,18],[1020,1280,8,28],[960,1280,8,15],[875,1300,8,15],[840,1300,8,15],[920,1320,8,15],[1135,1310,4,15],[1110,1030,6,15],[1000,880,10,14],[950,880,10,14]];
const micrographCellsR2C4 = [[1300,880,20,18],[1240,970,14,28],[1280,935,16,25],[1345,960,12,30],[1260,1000,14,18],[1310,1000,14,18],[1240,1035,14,20],[1290,1040,16,20],[1335,1050,14,20],[1270,1090,12,15],[1300,1130,12,25],[1230,1110,14,25],[1180,1045,7,15],[1330,1000,12,15],[1290,970,14,18],[1470,1030,8,20],[1440,1075,16,22],[1420,1150,10,22],[1450,1120,12,18],[1460,1165,8,15],[1375,1175,10,18],[1350,1195,10,20],[1320,1220,16,22],[1260,1215,12,28],[1300,1250,10,20],[1330,1275,10,20],[1360,1240,10,18],[1390,1260,10,10],[1425,1240,6,18],[1380,1215,8,14],[1265,1295,8,15],[1180,1210,12,22],[1425,1290,8,20],[1340,1330,8,15],[1205,1390,10,8],[1290,1365,8,12]];

function drawMicrograph(x, y, w, h, bg, cells, style, barL, barR, barY) {
  const root = document.getElementById('micrographs');
  const img = mk('svg', {x: x, y: y, width: w, height: h, viewBox: '0 0 ' + w + ' ' + h}, root);
  
  
  const back = mk('rect', {x: 0, y: 0, width: w, height: h, fill: bg}, img);
  
  
  if (style.glow) {
    const glow = mk('polygon', {points: style.glow.map(p => (p[0] / 1.686 - x) + ',' + (1530 + p[1] / 3 - y)).join(' '), fill: style.glowFill, style: 'filter:blur(9px)'}, img);
    
    
  }
  const layer = mk('g', {style: 'filter:blur(' + style.blur + 'px)'}, img);
  
  
  cells.forEach(c => {
    const cx = c[0] / 1.686 - x, cy = 1530 + c[1] / 3 - y, rx = c[2] / 1.686, ry = c[3] / 3;
    const cell = mk('ellipse', {cx: cx, cy: cy, rx: rx, ry: ry, fill: style.fill, stroke: style.stroke, 'stroke-width': style.strokeW}, layer);
    
    
  });
  const bar = mk('rect', {x: barL - x, y: barY - y - 1.5, width: barR - barL, height: 3, fill: '#4a80c4'}, img);
  
  
}
drawMicrograph(56, 1623, 195, 176, '#000', micrographCellsR1C1, {fill: '#031a03', stroke: '#062f06', strokeW: 1, blur: 1.2}, 169, 243, 1788);
drawMicrograph(270, 1623, 193, 176, '#021402', micrographCellsR1C2, {fill: '#26c626', stroke: '#109410', strokeW: 1.2, blur: 1.3, glow: [[455,278],[780,278],[780,470],[640,520],[520,620],[455,610]], glowFill: '#159415'}, 391, 464, 1788);
drawMicrograph(480, 1623, 195, 176, '#000', micrographCellsR1C3, {fill: '#148a14', stroke: 'none', strokeW: 0, blur: 1.5}, 599, 673, 1788);
drawMicrograph(691, 1623, 214, 176, '#000', micrographCellsR1C4, {fill: '#148a14', stroke: 'none', strokeW: 0, blur: 1.5}, 826, 900, 1788);
drawMicrograph(58, 1818, 193, 177, '#000', micrographCellsR2C1, {fill: '#021202', stroke: '#083d08', strokeW: 1.3, blur: 1.1}, 169, 243, 1979);
drawMicrograph(270, 1818, 194, 177, '#000', micrographCellsR2C2, {fill: '#042004', stroke: '#0a400a', strokeW: 1.3, blur: 1.3}, 391, 464, 1979);
drawMicrograph(480, 1818, 195, 177, '#0a2a05', micrographCellsR2C3, {fill: '#1a8c1a', stroke: 'none', strokeW: 0, blur: 2.4}, 599, 673, 1979);
drawMicrograph(691, 1818, 214, 177, '#0c3006', micrographCellsR2C4, {fill: '#0f5f0f', stroke: '#35c835', strokeW: 2, blur: 1}, 826, 900, 1979);
</script>
</body>
</html>
